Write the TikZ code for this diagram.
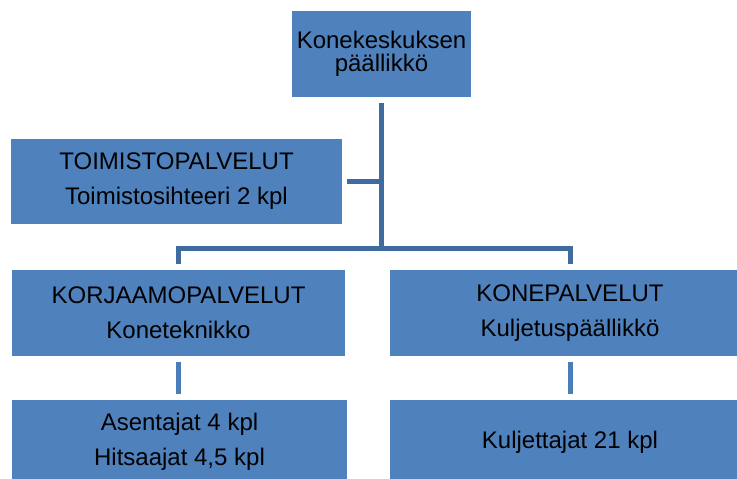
\documentclass[tikz,border=0pt]{standalone}
\usepackage{fontspec}
\setmainfont{Liberation Sans}
\definecolor{boxblue}{HTML}{4F81BD}
\definecolor{linkblue}{HTML}{3F6B9E}
\definecolor{stemblue}{HTML}{4A7DBA}
\begin{document}
\begin{tikzpicture}[x=1pt,y=-1pt,
  unit/.style={fill=boxblue, draw=none, inner sep=0pt, align=center,
    text=black, font=\fontsize{24}{35}\selectfont},
  link/.style={draw=linkblue, line width=5pt, line join=miter},
  stem/.style={draw=stemblue, line width=5pt}]
\useasboundingbox (0,0) rectangle (737,479);
\clip (0,0) rectangle (737,479);

% organisation units
\node[unit, minimum width=179pt, minimum height=86pt,
      font=\fontsize{24}{23.5}\selectfont] (head) at (381.5,54) {Konekeskuksen\\päällikkö};
\node[unit, minimum width=331pt, minimum height=85pt] (office) at (176.5,181.5)
  {TOIMISTOPALVELUT\\Toimistosihteeri 2 kpl};
\node[unit, minimum width=333pt, minimum height=86pt] (repair) at (178.5,313)
  {KORJAAMOPALVELUT\\Koneteknikko};
\node[unit, minimum width=360pt, minimum height=86pt] (machine) at (570,313)
  {KONEPALVELUT\\Kuljetuspäällikkö};
\node[unit, minimum width=335pt, minimum height=84pt] (fitters) at (179.5,442)
  {Asentajat 4 kpl\\Hitsaajat 4,5 kpl};
\node[unit, minimum width=360pt, minimum height=84pt] (drivers) at (570,442)
  {Kuljettajat 21 kpl};

% reporting lines
\coordinate (bus) at (381.5,248.5);
\draw[link] ([yshift=-6pt]head.south) -- (bus);
\draw[link] ([xshift=5pt]office.east) -- (office.east -| head.south);
\draw[link] ([yshift=6pt]repair.north) |- (bus) -| ([yshift=6pt]machine.north);
\draw[stem] ([yshift=-6pt]repair.south) -- ([yshift=6pt]fitters.north -| repair.south);
\draw[stem] ([yshift=-6pt]machine.south) -- ([yshift=6pt]drivers.north);
\end{tikzpicture}
\end{document}
